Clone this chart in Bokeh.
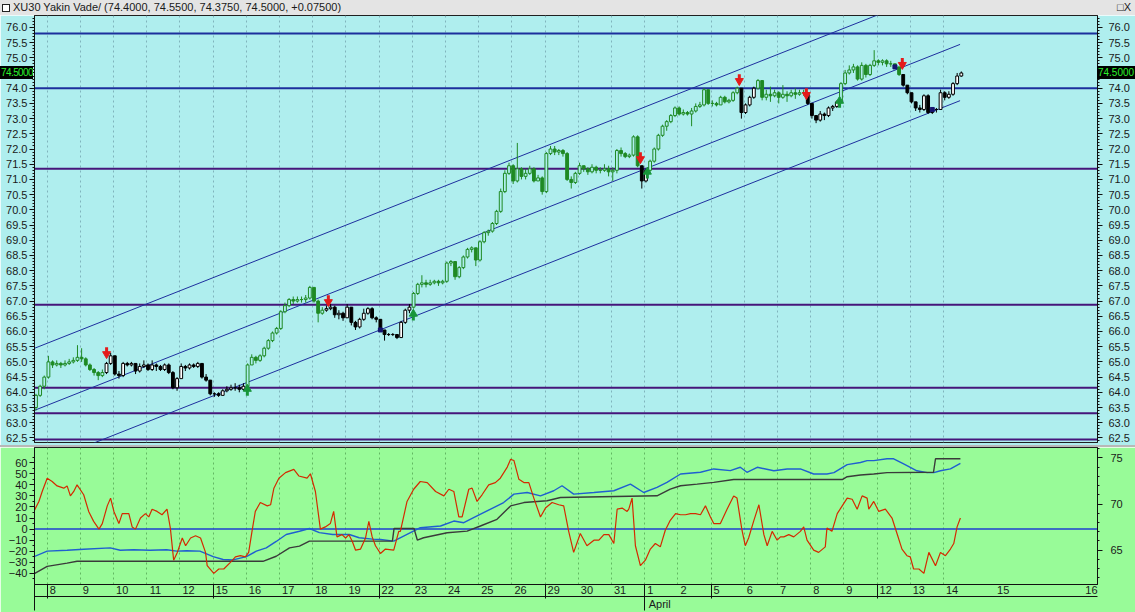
import numpy as np
from bokeh.plotting import figure
from bokeh.models import (Range1d, LinearAxis, FixedTicker, Span, Grid, Div,
                          ColumnDataSource, NumeralTickFormatter)
from bokeh.layouts import column
from bokeh.embed import file_html
from bokeh.resources import INLINE

# ---------------- data ----------------
title_text = "XU30 Yakin Vade/ (74.4000, 74.5500, 74.3750, 74.5000, +0.07500)"
last_price = 74.5
first_open = 63.5

close = [
    63.9, 64.2, 64.5, 65.0, 64.9, 64.95, 64.9, 64.95,
    65.0, 65.05, 65.15, 65.1, 64.9, 64.75, 64.65, 64.55,
    64.65, 64.95, 65.2, 64.6, 64.55, 64.95, 64.9, 64.95,
    64.7, 64.85, 64.9, 64.75, 64.9, 64.85, 64.75, 64.9,
    64.65, 64.15, 64.45, 64.85, 64.8, 64.9, 64.85, 64.95,
    64.5, 64.4, 63.95, 63.95, 63.9, 64.05, 64.1, 64.15,
    64.15, 64.1, 64.2, 64.9, 65.15, 65.05, 65.2, 65.45,
    65.7, 65.95, 66.1, 66.65, 66.85, 67.05, 67.0, 67.05,
    67.05, 67.1, 67.45, 67.0, 66.6, 66.7, 66.75, 66.8,
    66.55, 66.6, 66.45, 66.8, 66.3, 66.15, 66.4, 66.6,
    66.75, 66.45, 66.4, 66.05, 65.9, 65.9, 65.9, 65.8,
    66.3, 66.7, 66.8, 67.25, 67.55, 67.6, 67.55, 67.6,
    67.65, 67.6, 67.65, 68.25, 68.3, 67.8, 68.1, 68.45,
    68.7, 68.75, 68.35, 68.95, 69.25, 69.3, 69.55, 69.95,
    70.6, 71.2, 71.45, 70.95, 71.35, 71.1, 71.2, 71.35,
    70.95, 71.05, 70.6, 71.85, 72.0, 71.9, 71.95, 71.85,
    71.0, 70.9, 71.2, 71.45, 71.35, 71.25, 71.4, 71.3,
    71.3, 71.35, 71.25, 71.3, 71.95, 71.85, 71.75, 71.8,
    72.4, 71.45, 70.95, 71.3, 71.6, 72.0, 72.45, 72.75,
    72.9, 73.1, 73.35, 73.15, 73.2, 73.15, 73.25, 73.4,
    73.45, 73.95, 73.5, 73.5, 73.45, 73.7, 73.55, 73.6,
    73.85, 74.0, 73.2, 73.45, 73.7, 74.0, 74.25, 73.7,
    73.8, 73.75, 73.85, 73.7, 73.8, 73.75, 73.85, 73.8,
    73.85, 73.85, 73.5, 73.1, 72.95, 73.15, 73.1, 73.35,
    73.4, 73.55, 74.15, 74.5, 74.6, 74.7, 74.3, 74.75,
    74.45, 74.75, 74.9, 74.85, 74.9, 74.8, 74.8, 74.7,
    74.45, 74.1, 73.85, 73.55, 73.35, 73.3, 73.75, 73.2,
    73.3, 73.3, 73.85, 73.7, 73.8, 74.15, 74.4, 74.5,
]
high = [
    63.95, 64.25, 64.55, 65.2, 65.05, 65.05, 65.0, 65.05,
    65.1, 65.15, 65.55, 65.45, 65.15, 64.95, 64.8, 64.7,
    64.75, 65.0, 65.3, 65.2, 64.7, 65.0, 65.0, 65.0,
    64.95, 64.95, 65.05, 64.95, 65.05, 64.95, 64.9, 64.95,
    64.95, 64.7, 64.5, 64.95, 64.9, 64.95, 64.95, 65.0,
    64.95, 64.6, 64.4, 64.0, 64.0, 64.1, 64.2, 64.25,
    64.3, 64.25, 64.3, 64.95, 65.25, 65.2, 65.25, 65.5,
    65.75, 66.0, 66.15, 66.7, 66.95, 67.1, 67.15, 67.15,
    67.15, 67.2, 67.5, 67.45, 67.05, 66.8, 66.85, 66.9,
    66.85, 66.7, 66.65, 66.9, 66.8, 66.35, 66.45, 66.75,
    66.8, 66.8, 66.5, 66.4, 66.05, 65.95, 65.95, 65.9,
    66.35, 66.75, 66.9, 67.3, 67.6, 67.85, 67.7, 67.7,
    67.7, 67.7, 67.7, 68.3, 68.35, 68.3, 68.15, 68.5,
    68.75, 68.8, 68.75, 69.0, 69.3, 69.35, 69.6, 70.0,
    70.7, 71.3, 71.55, 71.5, 72.2, 71.4, 71.35, 71.45,
    71.4, 71.15, 71.1, 71.9, 72.1, 72.1, 72.0, 72.0,
    71.9, 71.1, 71.25, 71.55, 71.45, 71.4, 71.5, 71.45,
    71.4, 71.5, 71.45, 71.4, 72.0, 72.05, 71.9, 71.85,
    72.45, 72.45, 71.45, 71.35, 71.65, 72.05, 72.5, 72.8,
    72.95, 73.15, 73.4, 73.4, 73.3, 73.25, 73.35, 73.5,
    73.55, 74.0, 73.95, 73.6, 73.55, 73.75, 73.75, 73.65,
    73.9, 74.05, 74.0, 73.5, 73.75, 74.05, 74.3, 74.25,
    73.95, 74.05, 73.95, 73.9, 74.1, 73.9, 73.95, 74.0,
    73.95, 73.95, 73.85, 73.5, 73.1, 73.25, 73.2, 73.4,
    73.45, 73.6, 74.2, 74.6, 74.75, 74.8, 74.75, 74.85,
    74.8, 74.8, 75.25, 74.95, 74.95, 74.95, 74.9, 74.8,
    74.7, 74.45, 74.1, 73.85, 73.55, 73.45, 73.8, 73.8,
    73.35, 73.35, 73.95, 73.9, 73.9, 74.2, 74.5, 74.55,
]
low = [
    63.4, 63.85, 64.1, 64.45, 64.8, 64.85, 64.8, 64.85,
    64.9, 64.95, 65.0, 65.0, 64.85, 64.7, 64.55, 64.4,
    64.5, 64.6, 64.9, 64.55, 64.45, 64.5, 64.85, 64.85,
    64.6, 64.65, 64.8, 64.7, 64.7, 64.7, 64.7, 64.7,
    64.6, 64.1, 64.05, 64.7, 64.7, 64.75, 64.8, 64.8,
    64.45, 64.35, 63.9, 63.85, 63.85, 63.9, 64.0, 64.05,
    64.05, 64.0, 64.05, 64.15, 64.9, 64.95, 65.0, 65.15,
    65.4, 65.65, 65.9, 66.05, 66.6, 66.8, 66.9, 66.95,
    66.95, 66.95, 67.05, 66.95, 66.3, 66.55, 66.65, 66.7,
    66.45, 66.4, 66.35, 66.45, 66.2, 66.05, 66.1, 66.35,
    66.55, 66.4, 66.3, 66.0, 65.7, 65.85, 65.85, 65.75,
    65.8, 66.25, 66.6, 66.75, 67.2, 67.45, 67.45, 67.5,
    67.55, 67.5, 67.55, 67.6, 68.15, 67.7, 67.75, 68.05,
    68.4, 68.6, 68.15, 68.3, 68.9, 69.15, 69.25, 69.5,
    69.9, 70.55, 71.15, 70.85, 70.9, 71.0, 71.0, 71.15,
    70.9, 70.95, 70.5, 70.55, 71.8, 71.8, 71.8, 71.75,
    70.95, 70.7, 70.85, 71.15, 71.25, 71.15, 71.2, 71.2,
    71.2, 71.25, 71.1, 70.95, 71.2, 71.75, 71.7, 71.7,
    71.75, 71.4, 70.7, 70.9, 71.25, 71.55, 71.95, 72.4,
    72.6, 72.85, 73.05, 73.1, 73.1, 73.1, 72.75, 73.2,
    73.35, 73.4, 73.45, 73.4, 73.4, 73.45, 73.5, 73.5,
    73.55, 73.8, 73.0, 73.15, 73.4, 73.65, 73.95, 73.6,
    73.6, 73.55, 73.7, 73.5, 73.65, 73.55, 73.7, 73.65,
    73.75, 73.75, 73.45, 73.0, 72.85, 72.9, 72.95, 73.05,
    73.25, 73.35, 73.5, 74.1, 74.45, 74.5, 74.25, 74.25,
    74.35, 74.4, 74.7, 74.75, 74.75, 74.7, 74.7, 74.65,
    74.4, 74.05, 73.8, 73.5, 73.25, 73.2, 73.25, 73.15,
    73.15, 73.2, 73.3, 73.6, 73.65, 73.75, 74.1, 74.375,
]
bars_per_day = 8
green_runs = [(0, 16), (51, 69), (91, 145), (148, 169), (174, 185), (194, 208)]
dot_bars = [83, 207, 216]

sell_t = [2.19, 8.87, 18.27, 21.25, 23.27, 26.16]
sell_p = [65.31, 67.02, 71.72, 74.29, 73.83, 74.82]
buy_t = [6.43, 11.43, 18.48, 24.27]
buy_p = [64.06, 66.53, 71.2, 73.53]

level_blue = [75.8, 74.0]
level_purple = [71.35, 66.88, 64.15, 63.31, 62.45]

chan_t0 = [0.0, 0.0, 1.8]
chan_p0 = [65.44, 63.40, 62.33]
chan_t1 = [27.9, 27.9, 27.9]
chan_p1 = [77.48, 75.44, 73.59]

osc_t = [0.0, 0.15, 0.25, 0.40, 0.55, 0.70, 0.90, 1.0, 1.10, 1.20,
         1.30, 1.50, 1.65, 1.80, 1.96, 2.06, 2.21, 2.31, 2.41, 2.56,
         2.66, 2.86, 2.96, 3.06, 3.21, 3.36, 3.46, 3.56, 3.71, 3.86,
         4.01, 4.11, 4.21, 4.32, 4.47, 4.57, 4.72, 4.87, 5.02, 5.17,
         5.22, 5.42, 5.57, 5.72, 5.92, 6.07, 6.22, 6.37, 6.47, 6.57,
         6.67, 6.82, 7.03, 7.13, 7.23, 7.38, 7.58, 7.83, 7.98, 8.23,
         8.33, 8.48, 8.63, 8.78, 8.93, 9.03, 9.13, 9.28, 9.39, 9.49,
         9.59, 9.69, 9.84, 9.99, 10.09, 10.19, 10.29, 10.44, 10.59, 10.84,
         10.99,
         11.04, 11.24, 11.44, 11.64, 11.85, 12.10, 12.35, 12.50, 12.65, 12.80,
         12.90, 13.10, 13.20, 13.35, 13.50, 13.70, 13.90, 14.05, 14.26, 14.36,
         14.46, 14.61, 14.76, 14.91, 15.06, 15.26, 15.41, 15.61, 15.81, 15.96,
         16.11, 16.26, 16.46, 16.66, 16.87, 17.02, 17.17, 17.32, 17.47, 17.57,
         17.72, 17.87, 17.92, 18.02, 18.12, 18.27, 18.42, 18.57, 18.72, 18.87,
         19.02, 19.17, 19.33, 19.48, 19.63, 19.78, 19.93, 20.08, 20.23, 20.38,
         20.48, 20.68, 20.88, 21.08, 21.18, 21.33, 21.43, 21.53, 21.68, 21.84,
         21.99, 22.09, 22.24, 22.39, 22.49,
         22.59, 22.74, 22.89, 23.09, 23.19, 23.29, 23.49, 23.64, 23.84, 23.89,
         24.04, 24.20, 24.35, 24.50, 24.65, 24.80, 24.95, 25.10, 25.15, 25.30,
         25.45, 25.65, 25.85, 26.00, 26.15, 26.30, 26.40, 26.50, 26.66, 26.81,
         26.96, 27.16, 27.31, 27.46, 27.61, 27.71, 27.81, 27.91]
osc_v = [16, 25, 34, 46, 43, 39, 37, 39, 30, 34,
         40, 31, 16, 7, 0, 5, 21, 28, 16, 5,
         14, 14, 2, 0, 10, 14, 11, 18, 16, 13,
         18, 1, -28, -21, -8, -15, -8, -6, -8, -21,
         -33, -40, -36, -36, -30, -25, -24, -25, -21, -2,
         16, 24, 21, 22, 37, 46, 51, 54, 48, 46,
         50, 34, 0, 2, 5, 16, -7, -5, -8, -5,
         -11, -19, -18, -8, 7, -7, -15, -22, -18, -19,
         -2,
         -2, 25, 36, 43, 42, 34, 30, 36, 34, 11,
         11, 36, 37, 25, 31, 40, 42, 46, 56, 63,
         62, 45, 42, 42, 28, 11, 19, 24, 22, 21,
         -2, -21, -4, -15, -10, -10, -5, -5, -13, 18,
         19, 16, 18, 28, -15, -33, -28, -18, -13, -16,
         -1, 8, 14, 13, 13, 14, 14, 13, 21, 11,
         5, 5, 18, 30, 28, -1, -15, -8, 7, 22,
         -5, -15, -2, -10, -7,
         -7, -5, -7, -2, 2, -10, -19, -21, -16, 1,
         -2, 14, 21, 28, 27, 18, 30, 28, 18, 25,
         16, 18, 10, -4, -18, -24, -25, -36, -36, -40,
         -21, -33, -21, -24, -18, -13, 2, 10]

ma_t = [0.0, 0.4, 1.0, 1.5, 2.3, 2.6, 3.0, 3.5, 4.0, 4.3, 4.6, 5.0, 5.4, 5.7, 6.0,
        6.4, 6.7, 7.0, 7.3, 7.6, 8.0, 8.3, 8.6, 9.0, 9.5, 9.8, 10.2, 10.44, 10.84,
        11.24, 11.64, 12.25, 12.65, 12.95, 13.35, 13.85, 14.15, 14.46, 14.86, 15.26,
        15.66, 15.91, 16.26, 16.87, 17.47, 17.97, 18.37, 18.77, 19.07, 19.48, 20.08,
        20.48, 20.98, 21.28, 21.48, 21.79, 22.29, 22.69, 23.09, 23.49, 23.89, 24.10,
        24.50, 24.90, 25.10, 25.30, 25.70, 25.90, 26.20, 26.60, 26.91, 27.11, 27.31,
        27.61, 27.91]
ma_v = [64.3, 64.9, 65.0, 65.1, 65.25, 65.0, 65.05, 65.0, 65.05, 64.9, 64.95, 64.9, 64.3,
        64.0, 63.95, 64.3, 64.9, 65.25, 65.95, 66.7, 67.05, 67.35, 66.9, 66.7, 66.7,
        66.35, 66.2, 66.16, 65.98, 66.71, 67.44, 67.62, 68.16, 67.98, 68.71, 69.62,
        70.16, 71.07, 71.25, 70.89, 71.44, 71.98, 71.07, 71.25, 71.44, 72.16, 71.25,
        71.8, 72.35, 73.25, 73.44, 73.8, 73.62, 73.98, 73.44, 73.98, 73.6, 73.8, 73.8,
        73.25, 73.25, 73.4, 74.27, 74.5, 74.7, 74.7, 74.9, 74.9, 74.35, 73.6, 73.4,
        73.4, 73.6, 73.8, 74.4]

stop_t = [0.0, 0.4, 1.0, 1.3, 6.9, 7.3, 7.7, 8.0, 8.3, 10.8, 10.85, 11.45, 11.55,
          11.74, 12.45, 13.05, 13.45, 13.95, 14.36, 14.76, 15.46, 15.86, 18.77, 19.17,
          19.48, 19.98, 20.48, 21.08, 24.35, 24.50, 24.90, 25.30, 25.70, 27.10, 27.16,
          27.91]
stop_v = [62.45, 63.25, 63.6, 63.8, 63.8, 64.35, 65.25, 65.45, 65.98, 65.98, 67.36,
          67.36, 66.1, 66.35, 66.89, 67.07, 67.62, 68.35, 69.8, 70.16, 70.35, 70.71,
          70.89, 71.62, 71.98, 72.16, 72.35, 72.65, 72.65, 72.96, 73.15, 73.25, 73.4,
          73.44, 74.9, 74.9]

day_labels = ["8", "9", "10", "11", "12", "15", "16", "17", "18", "19", "22", "23",
              "24", "25", "26", "29", "30", "31", "1", "2", "5", "6", "7", "8", "9",
              "12", "13", "14", "15", "16"]
week_start_idx = [0, 5, 10, 15, 18, 20, 25]
month_idx = 18
month_label = "April"

# ---------------- layout ----------------
W = 1135
LB, RB = 34, 38
TITLE_H = 15
TOP_H, TOP_GAP = 430, 3          # figure height, cyan strip under the frame
SEP_H = 2
BOT_H = 165
BG_TOP = "#afeeee"
BG_BOT = "#98fb98"
FONT = "Liberation Sans"
PX_PER_DAY = 33.2

day_pos = [0.40 + k for k in range(28)] + [28.94, 31.60]
grid_pos = day_pos[:28]


def style_axis(ax):
    ax.axis_line_color = "#101010"
    ax.major_tick_line_color = "#101010"
    ax.minor_tick_line_color = "#101010"
    ax.major_tick_out = 5
    ax.major_tick_in = 0
    ax.minor_tick_out = 2
    ax.minor_tick_in = 0
    ax.major_label_text_font = FONT
    ax.major_label_text_font_size = "11px"
    ax.major_label_text_color = "#1a1a1a"
    ax.major_label_standoff = 2


xr = Range1d(0.018, 32.04)
yr_top = Range1d(62.35, 76.39)

# ---- top price panel ----
top = figure(width=W, height=TOP_H, x_range=xr, y_range=yr_top,
             output_backend="svg", toolbar_location=None, x_axis_location=None,
             min_border_left=LB, min_border_right=RB, min_border_top=0,
             min_border_bottom=TOP_GAP,
             background_fill_color=BG_TOP, border_fill_color=BG_TOP,
             outline_line_color="#202020")
top.xgrid.visible = False
top.ygrid.visible = False

price_ticks = [round(62.5 + 0.5 * i, 1) for i in range(28)]
price_minor = [round(62.4 + 0.1 * i, 1) for i in range(141)]
top.yaxis[0].ticker = FixedTicker(ticks=price_ticks, minor_ticks=price_minor)
top.yaxis[0].formatter = NumeralTickFormatter(format="0.0")
style_axis(top.yaxis[0])
rax = LinearAxis(ticker=FixedTicker(ticks=price_ticks, minor_ticks=price_minor),
                 formatter=NumeralTickFormatter(format="0.0"))
style_axis(rax)
rax.major_label_standoff = 6
top.add_layout(rax, "right")

top.add_layout(Grid(dimension=0, ticker=FixedTicker(ticks=grid_pos),
                    grid_line_color="#80b4bc", grid_line_dash="2 3", grid_line_width=1))

for lv in level_blue:
    top.add_layout(Span(location=lv, dimension="width", line_color="#1c2f9c",
                        line_width=2, level="underlay"))
for lv in level_purple:
    top.add_layout(Span(location=lv, dimension="width", line_color="#46167a",
                        line_width=2, level="underlay"))

top.segment(x0=chan_t0, y0=chan_p0, x1=chan_t1, y1=chan_p1,
            line_color="#1e2f9e", line_width=1)

n = len(close)
opens = [first_open] + close[:-1]
is_green = [False] * n
for a, b in green_runs:
    for i in range(a, b + 1):
        is_green[i] = True
xs = [(i + 0.5) / bars_per_day for i in range(n)]
GREEN = "#1f8a24"
line_c, fill_c = [], []
for i in range(n):
    up = close[i] >= opens[i]
    if is_green[i]:
        line_c.append(GREEN)
        fill_c.append(BG_TOP if up else GREEN)
    else:
        line_c.append("#000000")
        fill_c.append("#ffffff" if up else "#000000")
src = ColumnDataSource(dict(
    x=xs, o=opens, c=close, h=high, l=low,
    top=[max(a, b) for a, b in zip(opens, close)],
    bot=[min(a, b) for a, b in zip(opens, close)],
    lc=line_c, fc=fill_c))
top.segment(x0="x", y0="l", x1="x", y1="h", line_color="lc", line_width=1, source=src)
top.vbar(x="x", width=0.085, top="top", bottom="bot", fill_color="fc",
         line_color="lc", line_width=1, source=src)
top.scatter(x=[xs[i] for i in dot_bars], y=[close[i] for i in dot_bars],
            marker="square", size=4, color="#14146e")

# signal arrows
top.segment(x0=sell_t, y0=sell_p, x1=sell_t, y1=[p + 0.17 for p in sell_p],
            line_color="#e41b1b", line_width=3)
top.scatter(x=sell_t, y=[p - 0.05 for p in sell_p], marker="inverted_triangle",
            size=8, color="#e41b1b")
top.segment(x0=buy_t, y0=buy_p, x1=buy_t, y1=[p - 0.17 for p in buy_p],
            line_color="#18963a", line_width=3)
top.scatter(x=buy_t, y=[p + 0.05 for p in buy_p], marker="triangle",
            size=8, color="#18963a")

# ---- bottom indicator panel ----
bot = figure(width=W, height=BOT_H, x_range=xr, y_range=Range1d(-50, 73.7),
             output_backend="svg", toolbar_location=None, x_axis_location=None,
             min_border_left=LB, min_border_right=RB, min_border_top=0, min_border_bottom=0,
             background_fill_color=BG_BOT, border_fill_color=BG_BOT,
             outline_line_color="#202020")
bot.xgrid.visible = False
bot.ygrid.visible = False
bot.extra_y_ranges = {"ma": Range1d(61.29, 76.12)}

bot.yaxis[0].ticker = FixedTicker(ticks=list(range(-40, 61, 10)),
                                  minor_ticks=list(range(-45, 70, 5)))
style_axis(bot.yaxis[0])
rax2 = LinearAxis(y_range_name="ma",
                  ticker=FixedTicker(ticks=[65, 70, 75], minor_ticks=list(range(62, 77))))
style_axis(rax2)
rax2.major_label_standoff = 8
bot.add_layout(rax2, "right")

bot.add_layout(Grid(dimension=0, ticker=FixedTicker(ticks=grid_pos),
                    grid_line_color="#62b862", grid_line_dash="2 3", grid_line_width=1))
bot.add_layout(Span(location=0, dimension="width", line_color="#1f3fd0",
                    line_width=1.5, level="underlay"))

bot.line(ma_t, ma_v, y_range_name="ma", line_color="#1f5fd0", line_width=1.4)
bot.line(stop_t, stop_v, y_range_name="ma", line_color="#3a3a3a", line_width=1.4)
bot.line(osc_t, osc_v, line_color="#d42a00", line_width=1.2)


def label_center(pos, text):
    w = sum(6.1 if ch.isdigit() else 5.0 for ch in text)
    return round(pos + (2.5 + w / 2) / PX_PER_DAY, 3)


lab_ticks = [label_center(p, t) for p, t in zip(day_pos, day_labels)]
sep_ticks = [xr.start] + [day_pos[i] for i in week_start_idx]
ax_days = LinearAxis(ticker=FixedTicker(ticks=lab_ticks, minor_ticks=sep_ticks),
                     major_label_overrides={k: t for k, t in zip(lab_ticks, day_labels)})
style_axis(ax_days)
ax_days.major_tick_line_color = None
ax_days.major_tick_out = 0
ax_days.minor_tick_out = 14
ax_days.major_label_standoff = -13
bot.add_layout(ax_days, "below")

m_tick = label_center(day_pos[month_idx], month_label)
ax_month = LinearAxis(ticker=FixedTicker(ticks=[m_tick],
                                         minor_ticks=[xr.start, day_pos[month_idx]]),
                      major_label_overrides={m_tick: month_label})
style_axis(ax_month)
ax_month.major_tick_line_color = None
ax_month.major_tick_out = 0
ax_month.minor_tick_out = 14
ax_month.major_label_standoff = -13
bot.add_layout(ax_month, "below")

# ---- title bar (also carries the last-price tags drawn over both price axes) ----
frame_h = TOP_H - TOP_GAP
tag_y = int(round(TITLE_H + (yr_top.end - last_price) / (yr_top.end - yr_top.start) * frame_h - 6))
tag_css = ("position:absolute;top:" + str(tag_y) + "px;height:13px;line-height:13px;"
           "background:#000;color:#2cf02c;font-size:10px;font-family:Liberation Sans;"
           "white-space:nowrap;overflow:hidden;")
tag_txt = f"{last_price:.4f}"
title_html = (
    '<span style="display:inline-block;width:8px;height:8px;border:1px solid #222;'
    'margin:0 3px 0 2px;vertical-align:-1px;background:#fff"></span>' + title_text +
    '<span style="position:absolute;right:4px;top:0;">&#9633;X</span>'
    '<span style="' + tag_css + f'left:0px;width:{LB - 1}px;text-align:right;'
    'letter-spacing:-0.6px;">' + tag_txt + '</span>'
    '<span style="' + tag_css + f'left:{W - RB}px;width:{RB}px;text-align:center;">'
    + tag_txt + '</span>'
)
title_div = Div(
    text=title_html, width=W, height=TITLE_H, margin=0,
    styles={"background-color": "#e4e4e4", "font-family": FONT, "font-size": "11px",
            "line-height": "15px", "color": "#1a1a1a", "white-space": "nowrap",
            "overflow": "visible", "position": "relative", "z-index": "10",
            "width": f"{W}px"})
sep_div = Div(text="", width=W, height=SEP_H, margin=0,
              styles={"background-color": "#b8b8b8", "width": f"{W}px"})

layout = column(title_div, top, sep_div, bot, spacing=0)
open("out.html", "w").write(file_html(layout, INLINE))
